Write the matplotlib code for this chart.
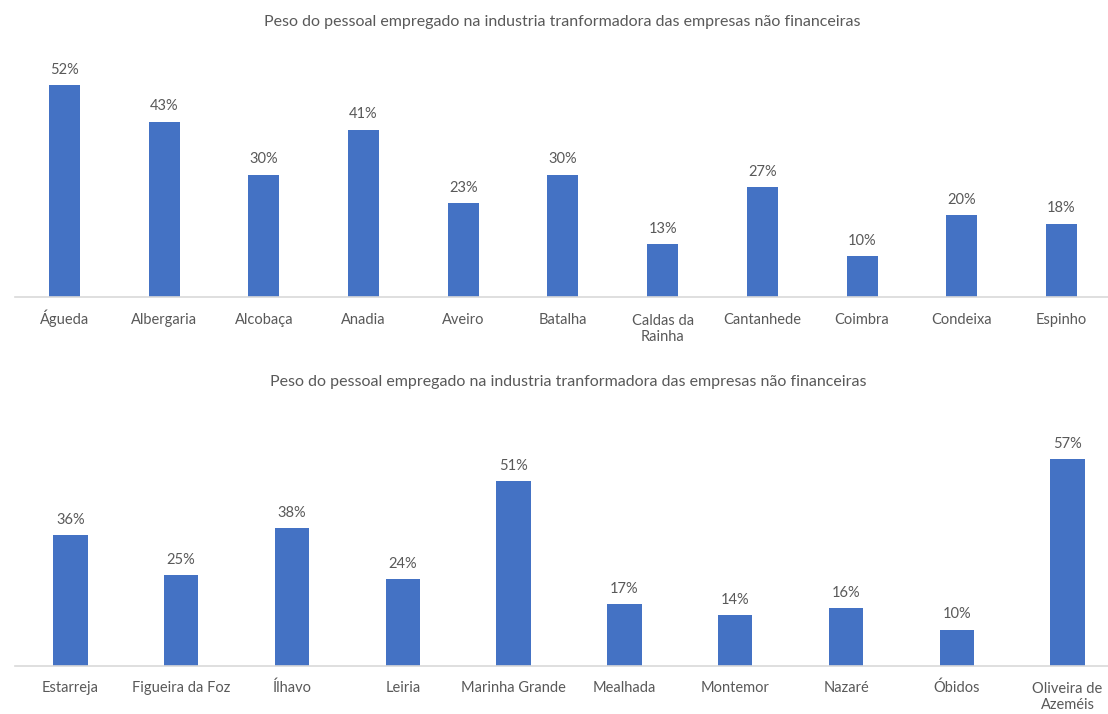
import matplotlib.pyplot as plt
from matplotlib.ticker import NullLocator

TITLE = "Peso do pessoal empregado na industria tranformadora das empresas não financeiras"

top_names = ["Águeda", "Albergaria", "Alcobaça", "Anadia", "Aveiro", "Batalha",
             "Caldas da\nRainha", "Cantanhede", "Coimbra", "Condeixa", "Espinho"]
top_values = [0.52, 0.43, 0.30, 0.41, 0.23, 0.30, 0.13, 0.27, 0.10, 0.20, 0.18]

bottom_names = ["Estarreja", "Figueira da Foz", "Ílhavo", "Leiria", "Marinha Grande",
                "Mealhada", "Montemor", "Nazaré", "Óbidos", "Oliveira de\nAzeméis"]
bottom_values = [0.36, 0.25, 0.38, 0.24, 0.51, 0.17, 0.14, 0.16, 0.10, 0.57]

BAR = "#4472C4"
TEXT = "#595959"
AXIS = "#D9D9D9"

plt.rcParams["font.family"] = ["Lato", "DejaVu Sans"]

W, H = 1108, 714
LINE_PT = 12.2  # distance between baselines of the two-line category names
fig = plt.figure(figsize=(W / 100, H / 100), dpi=100)


def panel(rect, names, values, ymax, bw, drop):
    ax = fig.add_axes(rect)
    x = range(len(names))
    ax.bar(x, values, width=bw, color=BAR, zorder=2)
    for xi, v in zip(x, values):
        ax.annotate(f"{v * 100:.0f}%", (xi, v), textcoords="offset points",
                    xytext=(0, 6), ha="center", va="bottom",
                    fontsize=10.5, color=TEXT)
    # category names on a common baseline (accents don't push them down)
    for xi, name in zip(x, names):
        extra = LINE_PT * name.count("\n")
        ax.annotate(name, (xi, 0), xycoords=("data", "axes fraction"),
                    textcoords="offset points", xytext=(0, -drop - extra),
                    ha="center", va="baseline", multialignment="center",
                    fontsize=10.5, color=TEXT, linespacing=1.18,
                    annotation_clip=False)
    ax.set_xlim(-0.5, len(names) - 0.5)
    ax.set_ylim(0, ymax)
    ax.xaxis.set_major_locator(NullLocator())
    ax.yaxis.set_major_locator(NullLocator())
    for s in ["top", "right", "left"]:
        ax.spines[s].set_visible(False)
    ax.spines["bottom"].set_color(AXIS)
    ax.spines["bottom"].set_linewidth(1.2)
    ax.patch.set_visible(False)
    return ax


# top chart: baseline at y=297px, 11 slots of ~99.7px from x=14.6
panel([14.6 / W, 1 - 297 / H, 1096.7 / W, 237 / H], top_names, top_values, 0.581, 0.31, 19.5)
# bottom chart: baseline at y=666px, 10 slots of ~110.8px from x=15
panel([15 / W, 1 - 666 / H, 1108 / W, 246 / H], bottom_names, bottom_values, 0.678, 0.31, 18.5)

fig.text(562 / W, 1 - 22 / H, TITLE, ha="center", va="center", fontsize=11.5, color=TEXT)
fig.text(568 / W, 1 - 382 / H, TITLE, ha="center", va="center", fontsize=11.5, color=TEXT)

fig.savefig("out.png", dpi=100, facecolor="white")
